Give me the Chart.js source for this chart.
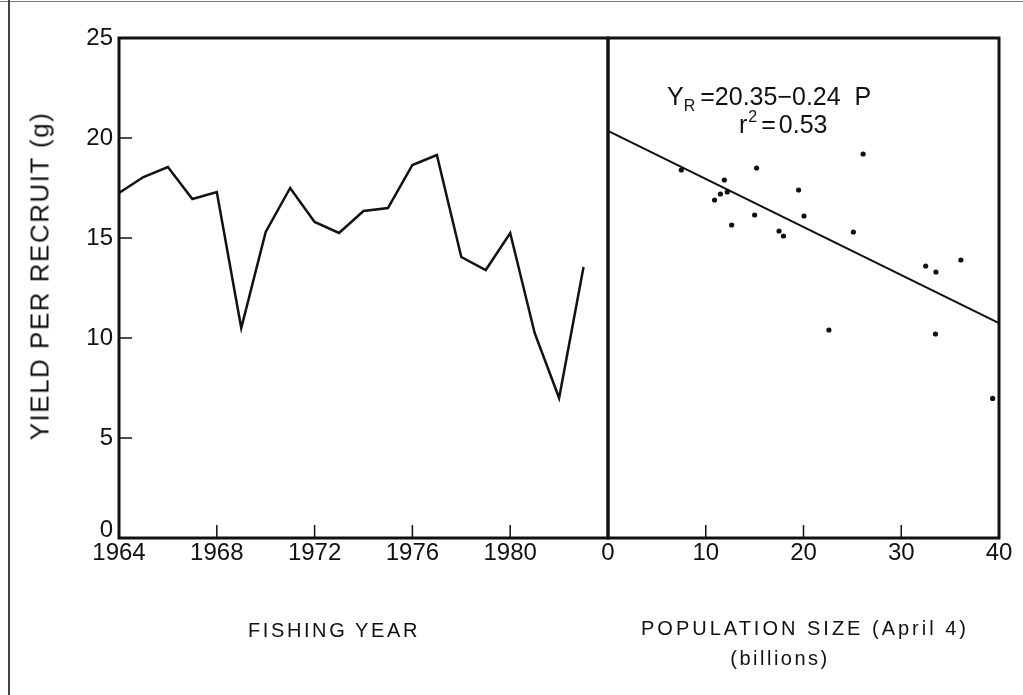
<!DOCTYPE html>
<html>
<head>
<meta charset="utf-8">
<script src="https://cdn.jsdelivr.net/npm/chart.js@4.4.0/dist/chart.umd.min.js"></script>
<style>
html, body { margin: 0; padding: 0; background: #fff; }
#page { position: relative; width: 1023px; height: 695px; overflow: hidden; }
#edgeTop { position: absolute; left: 0; top: 1px; width: 1023px; border-top: 1px solid #777; }
#edgeLeft { position: absolute; left: 8px; top: 0; height: 695px; border-left: 2px solid #444; }
canvas { position: absolute; top: 0; }
#leftChart { left: 0; }
#rightChart { left: 580px; }
.title { position: absolute; font-family: "Liberation Sans"; color: #111; white-space: nowrap;
         font-size: 20px; letter-spacing: 2.6px; transform: translate(-50%, -50%); }
#yTitle { left: 40px; top: 276px; font-size: 26px; letter-spacing: 1.5px;
          transform: translate(-50%, -50%) rotate(-90deg); }
</style>
</head>
<body>
<div id="page">
  <div id="edgeTop"></div>
  <div id="edgeLeft"></div>
  <canvas id="leftChart" width="640" height="695"></canvas>
  <canvas id="rightChart" width="443" height="695"></canvas>
  <div class="title" id="yTitle">YIELD PER RECRUIT (g)</div>
  <div class="title" style="left:334px; top:630px;">FISHING YEAR</div>
  <div class="title" style="left:805px; top:628px; letter-spacing:3px;">POPULATION SIZE (April 4)</div>
  <div class="title" style="left:780px; top:658px; letter-spacing:2.5px;">(billions)</div>
</div>
<script>
/* datos */
const years = [1964, 1965, 1966, 1967, 1968, 1969, 1970, 1971, 1972, 1973,
  1974, 1975, 1976, 1977, 1978, 1979, 1980, 1981, 1982, 1983];
const yieldPerRecruit = [17.25, 18.05, 18.55, 16.95, 17.3, 10.5, 15.3, 17.5, 15.8, 15.25,
  16.35, 16.5, 18.65, 19.15, 14.05, 13.4, 15.25, 10.25, 7.0, 13.55];

const populationSize = [7.5, 15.2, 26.1, 11.9, 11.5, 12.2, 10.9, 19.5, 15.0, 20.05,
  12.65, 17.5, 17.95, 25.1, 32.5, 33.55, 36.1, 22.6, 33.5, 39.35];
const yieldObserved = [18.4, 18.5, 19.2, 17.9, 17.2, 17.3, 16.9, 17.4, 16.15, 16.1,
  15.65, 15.35, 15.1, 15.3, 13.6, 13.3, 13.9, 10.4, 10.2, 6.98];

// recta ajustada Y = 20.35 - 0.24 P, extremos leídos
const fitX = [0, 40];
const fitY = [20.35, 10.75];

const yearTicks = [1964, 1968, 1972, 1976, 1980];
const popTicks = [0, 10, 20, 30, 40];
const yTicks = [0, 5, 10, 15, 20, 25];

const ink = '#111';
const tickFont = { family: 'Liberation Sans', size: 24 };

// marco grueso y marcas hacia adentro
const frameAndTicks = {
  id: 'frameAndTicks',
  afterDatasetsDraw(chart, args, opts) {
    const { ctx, chartArea: a, scales } = chart;
    ctx.save();
    ctx.strokeStyle = ink;
    ctx.lineWidth = 3;
    ctx.strokeRect(a.left, a.top, a.right - a.left, a.bottom - a.top);
    ctx.lineWidth = 1.5;
    ctx.beginPath();
    (opts.xMarks || []).forEach(v => {
      const px = scales.x.getPixelForValue(v);
      ctx.moveTo(px, a.bottom);
      ctx.lineTo(px, a.bottom - 13);
    });
    (opts.yMarks || []).forEach(v => {
      const py = scales.y.getPixelForValue(v);
      ctx.moveTo(a.left, py);
      ctx.lineTo(a.left + 13, py);
    });
    ctx.stroke();
    // el "0" del eje y va encima de la esquina
    if (opts.zeroLabel) {
      ctx.fillStyle = ink;
      ctx.font = '24px "Liberation Sans"';
      ctx.textAlign = 'right';
      ctx.textBaseline = 'middle';
      ctx.fillText('0', a.left - 6, scales.y.getPixelForValue(0) - 8);
    }
    ctx.restore();
  }
};

// texto de la ecuación
const equation = {
  id: 'equation',
  afterDatasetsDraw(chart) {
    const { ctx, chartArea: a } = chart;
    ctx.save();
    ctx.fillStyle = ink;
    ctx.textBaseline = 'alphabetic';
    const big = '25px "Liberation Sans"';
    const small = '16px "Liberation Sans"';
    let x = a.left + 59;
    let y = a.top + 67;
    ctx.font = big;
    ctx.fillText('Y', x, y);
    x += ctx.measureText('Y').width;
    ctx.font = small;
    ctx.fillText('R', x, y + 6);
    x += ctx.measureText('R').width + 5;
    ctx.font = big;
    ctx.fillText('=20.35\u22120.24  P', x, y);

    x = a.left + 131;
    y = a.top + 95;
    ctx.fillText('r', x, y);
    x += ctx.measureText('r').width + 1;
    ctx.font = small;
    ctx.fillText('2', x, y - 11);
    x += ctx.measureText('2').width + 4;
    ctx.font = big;
    ctx.fillText('=', x, y);
    x += ctx.measureText('=').width + 3;
    ctx.fillText('0.53', x, y);
    ctx.restore();
  }
};

function xAxis(min, max, list, h) {
  return {
    type: 'linear', min: min, max: max,
    afterBuildTicks: s => { s.ticks = list.map(v => ({ value: v })); },
    afterFit: s => { s.height = h; },
    grid: { display: false, drawTicks: false },
    border: { display: false },
    ticks: { color: ink, font: tickFont, padding: 1, maxRotation: 0, autoSkip: false,
             callback: v => String(v) }
  };
}

new Chart(document.getElementById('leftChart'), {
  type: 'line',
  data: {
    datasets: [{
      data: years.map((yr, i) => ({ x: yr, y: yieldPerRecruit[i] })),
      borderColor: ink,
      borderWidth: 2.5,
      pointRadius: 0,
      tension: 0
    }]
  },
  options: {
    responsive: false,
    animation: false,
    layout: { padding: { top: 38, right: 32, left: 0, bottom: 0 } },
    plugins: {
      legend: { display: false },
      tooltip: { enabled: false },
      frameAndTicks: { xMarks: [1968, 1972, 1976, 1980], yMarks: [5, 10, 15, 20], zeroLabel: true }
    },
    scales: {
      x: xAxis(1964, 1984, yearTicks, 157),
      y: {
        min: 0, max: 25,
        afterBuildTicks: s => { s.ticks = yTicks.map(v => ({ value: v })); },
        afterFit: s => { s.width = 119; },
        grid: { display: false, drawTicks: false },
        border: { display: false },
        ticks: { color: ink, font: tickFont, padding: 6, callback: v => (v === 0 ? '' : String(v)) }
      }
    }
  },
  plugins: [frameAndTicks]
});

new Chart(document.getElementById('rightChart'), {
  type: 'line',
  data: {
    datasets: [
      {
        data: populationSize.map((p, i) => ({ x: p, y: yieldObserved[i] })),
        showLine: false,
        pointRadius: 2.6,
        pointBorderWidth: 0,
        pointBackgroundColor: ink
      },
      {
        data: fitX.map((p, i) => ({ x: p, y: fitY[i] })),
        borderColor: ink,
        borderWidth: 2,
        pointRadius: 0,
        tension: 0
      }
    ]
  },
  options: {
    responsive: false,
    animation: false,
    layout: { padding: { top: 38, right: 24, left: 28, bottom: 0 } },
    plugins: {
      legend: { display: false },
      tooltip: { enabled: false },
      frameAndTicks: { xMarks: [10, 20, 30] }
    },
    scales: {
      x: xAxis(0, 40, popTicks, 157),
      y: { min: 0, max: 25, display: false }
    }
  },
  plugins: [frameAndTicks, equation]
});
</script>
</body>
</html>
